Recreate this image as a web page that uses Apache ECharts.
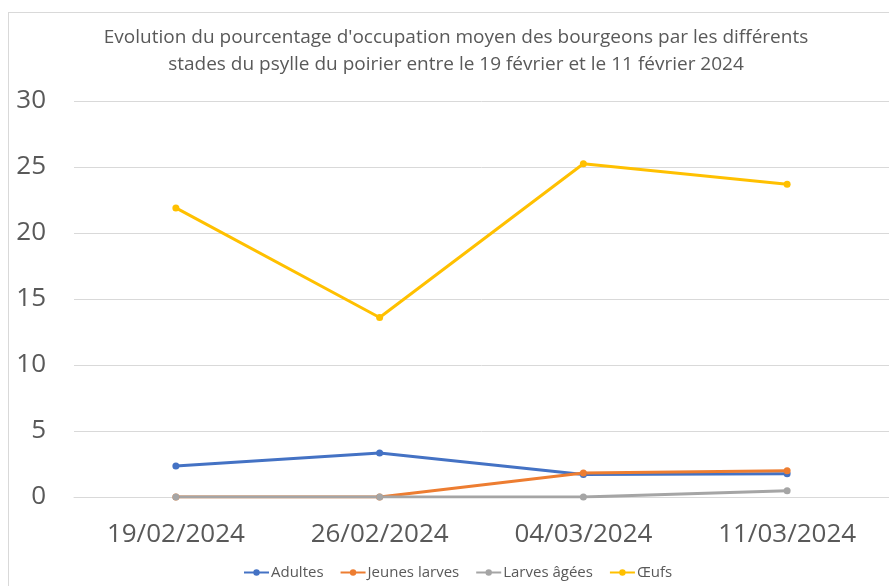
<!DOCTYPE html>
<html>
<head>
<meta charset="utf-8">
<script src="https://cdn.jsdelivr.net/npm/echarts@6/dist/echarts.min.js"></script>
<style>
  html, body { margin: 0; padding: 0; background: #fff; }
  #frame { position: absolute; left: 8px; top: 12px; width: 900px; height: 600px; border: 1px solid #d9d9d9; }
  #main { position: absolute; left: 0; top: 0; width: 889px; height: 586px; }
</style>
</head>
<body>
<div id="frame"></div>
<div id="main"></div>
<script>
const categories = ["19/02/2024", "26/02/2024", "04/03/2024", "11/03/2024"];
const adultes = [2.35, 3.33, 1.7, 1.76];
const jeunesLarves = [0, 0, 1.82, 1.98];
const larvesAgees = [0, 0, 0, 0.47];
const oeufs = [21.9, 13.6, 25.25, 23.7];

const fontFamily = "'Open Sans', sans-serif";
const textColor = "#595959";

const mkSeries = (name, data, color) => ({
  name: name,
  type: "line",
  data: data,
  symbol: "circle",
  symbolSize: 7,
  lineStyle: { width: 3, color: color },
  itemStyle: { color: color },
});

const chart = echarts.init(document.getElementById("main"));
chart.setOption({
  animation: false,
  title: {
    text: "Evolution du pourcentage d'occupation moyen des bourgeons par les différents\nstades du psylle du poirier entre le 19 février et le 11 février 2024",
    left: 456,
    top: 24,
    padding: 0,
    textAlign: "center",
    textStyle: {
      fontFamily: fontFamily,
      fontWeight: "normal",
      fontSize: 19,
      lineHeight: 27,
      color: textColor,
    },
  },
  legend: {
    data: ["Adultes", "Jeunes larves", "Larves âgées", "Œufs"],
    left: 243,
    top: 565,
    padding: 0,
    itemWidth: 25,
    itemHeight: 8,
    itemGap: 16,
    textStyle: { fontFamily: fontFamily, fontSize: 15, color: textColor, padding: [0, 0, 0, -3] },
  },
  grid: { left: 74, top: 101, width: 816, height: 396, containLabel: false },
  xAxis: {
    type: "category",
    data: categories,
    boundaryGap: true,
    axisLine: { show: true, lineStyle: { color: "#d9d9d9", width: 1 } },
    axisTick: { show: false },
    axisLabel: { fontFamily: fontFamily, fontSize: 26, color: textColor, margin: 25 },
  },
  yAxis: {
    type: "value",
    min: 0,
    max: 30,
    interval: 5,
    axisLine: { show: false },
    axisTick: { show: false },
    splitLine: { show: true, lineStyle: { color: "#d9d9d9", width: 1 } },
    axisLabel: { fontFamily: fontFamily, fontSize: 26, color: textColor, margin: 28 },
  },
  series: [
    mkSeries("Adultes", adultes, "#4472C4"),
    mkSeries("Jeunes larves", jeunesLarves, "#ED7D31"),
    mkSeries("Larves âgées", larvesAgees, "#A5A5A5"),
    mkSeries("Œufs", oeufs, "#FFC000"),
  ],
});
</script>
</body>
</html>
